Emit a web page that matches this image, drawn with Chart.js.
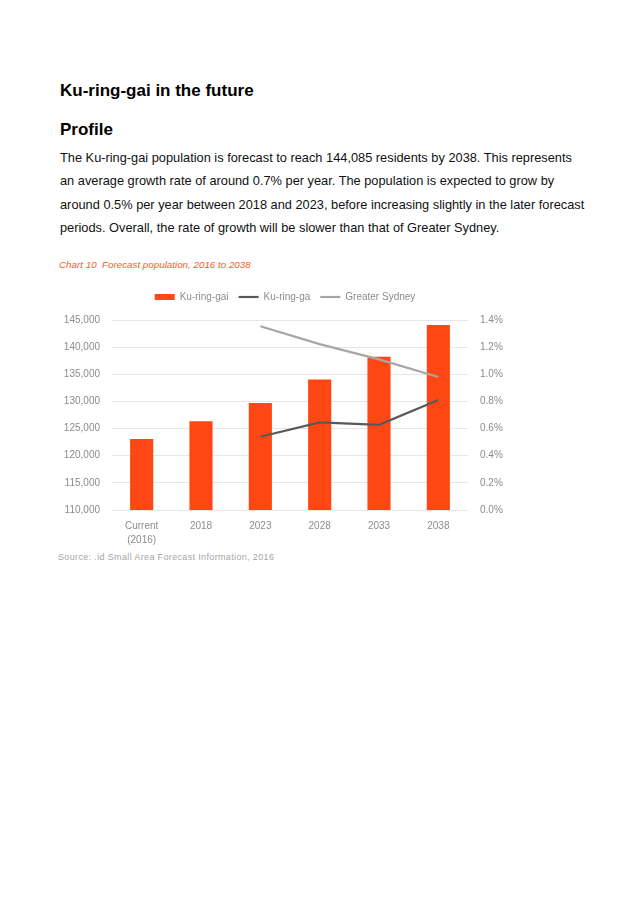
<!DOCTYPE html>
<html>
<head>
<meta charset="utf-8">
<script src="https://cdn.jsdelivr.net/npm/chart.js@4"></script>
<style>
  html, body { margin: 0; padding: 0; background: #fff; }
  body { width: 637px; height: 902px; position: relative; font-family: "Liberation Sans", Arial, sans-serif; color: #000; }
  .abs { position: absolute; white-space: nowrap; }
  #title { left: 60px; top: 81px; font-size: 17px; line-height: 20px; font-weight: bold; }
  #profile { left: 60px; top: 120px; font-size: 17px; line-height: 20px; font-weight: bold; }
  #para { left: 60px; top: 146px; font-size: 12.8px; line-height: 23.3px; color: #111; }
  #caption { left: 59px; top: 259px; font-size: 9.8px; line-height: 12px; font-style: italic; color: #ff5a28; }
  #source { left: 58px; top: 551px; font-size: 9px; line-height: 12px; color: #a6a6a6; letter-spacing: 0.35px; }
  #wrap { position: absolute; left: 50px; top: 280px; width: 470px; height: 270px; }
</style>
</head>
<body>
<div class="abs" id="title">Ku-ring-gai in the future</div>
<div class="abs" id="profile">Profile</div>
<div class="abs" id="para">The Ku-ring-gai population is forecast to reach 144,085 residents by 2038. This represents<br>an average growth rate of around 0.7% per year. The population is expected to grow by<br>around 0.5% per year between 2018 and 2023, before increasing slightly in the later forecast<br>periods. Overall, the rate of growth will be slower than that of Greater Sydney.</div>
<div class="abs" id="caption">Chart 10&nbsp; Forecast population, 2016 to 2038</div>
<div id="wrap"><canvas id="popChart" width="470" height="270"></canvas></div>
<div class="abs" id="source">Source: .id Small Area Forecast Information, 2016</div>

<script>
// ========== DADOS ==========
const categorias = [['Current', '(2016)'], '2018', '2023', '2028', '2033', '2038'];
const populacao = [123100, 126350, 129700, 134050, 138250, 144085];
const crescimentoKuRingGai = [null, null, 0.54, 0.645, 0.628, 0.81];
const crescimentoSydney = [null, null, 1.354, 1.222, 1.11, 0.98];
const legendas = ['Ku-ring-gai', 'Ku-ring-ga', 'Greater Sydney'];
const ticksPopulacao = [110000, 145000, 5000];
const ticksPercent = [0, 1.4, 0.2];

const corBarra = '#ff4713';
const corLinhaEscura = '#595959';
const corLinhaClara = '#a6a6a6';
const corTexto = '#8c8c8c';

let popChart = null;

// espaço extra entre a legenda e a área do gráfico
const espacoLegenda = {
    id: 'espacoLegenda',
    beforeInit(chart) {
        const fitOriginal = chart.legend.fit;
        chart.legend.fit = function() {
            fitOriginal.bind(chart.legend)();
            this.height += 8;
        };
    }
};

function criarGrafico() {
    const ctx = document.getElementById('popChart');
    if (!ctx) {
        console.error('Canvas não encontrado!');
        return;
    }

    popChart = new Chart(ctx.getContext('2d'), {
        data: {
            labels: categorias,
            datasets: [
                {
                    type: 'bar',
                    label: legendas[0],
                    data: populacao,
                    backgroundColor: corBarra,
                    borderWidth: 0,
                    categoryPercentage: 1,
                    barPercentage: 0.39,
                    yAxisID: 'y',
                    order: 1
                },
                {
                    type: 'line',
                    label: legendas[1],
                    data: crescimentoKuRingGai,
                    borderColor: corLinhaEscura,
                    backgroundColor: corLinhaEscura,
                    borderWidth: 2.2,
                    pointRadius: 0,
                    tension: 0,
                    yAxisID: 'y1',
                    order: 0
                },
                {
                    type: 'line',
                    label: legendas[2],
                    data: crescimentoSydney,
                    borderColor: corLinhaClara,
                    backgroundColor: corLinhaClara,
                    borderWidth: 2.2,
                    pointRadius: 0,
                    tension: 0,
                    yAxisID: 'y1',
                    order: 0
                }
            ]
        },
        plugins: [espacoLegenda],
        options: {
            responsive: false,
            animation: false,
            layout: { padding: { top: 2, left: 0, right: 0, bottom: 0 } },
            plugins: {
                tooltip: { enabled: false },
                legend: {
                    display: true,
                    position: 'top',
                    labels: {
                        usePointStyle: true,
                        pointStyleWidth: 20,
                        boxHeight: 6,
                        padding: 10,
                        color: corTexto,
                        font: { size: 10, family: 'Liberation Sans' },
                        sort: (a, b) => a.datasetIndex - b.datasetIndex,
                        generateLabels: function(chart) {
                            const itens = Chart.defaults.plugins.legend.labels.generateLabels(chart);
                            itens.forEach(function(item) {
                                const ds = chart.data.datasets[item.datasetIndex];
                                if (ds.type === 'line') {
                                    item.pointStyle = 'line';
                                    item.strokeStyle = ds.borderColor;
                                    item.lineWidth = 2.2;
                                } else {
                                    item.pointStyle = 'rect';
                                    item.fillStyle = ds.backgroundColor;
                                    item.lineWidth = 0;
                                }
                            });
                            return itens;
                        }
                    }
                }
            },
            scales: {
                x: {
                    grid: { display: false, drawTicks: false },
                    border: { display: false },
                    ticks: {
                        color: corTexto,
                        padding: 9,
                        maxRotation: 0,
                        font: { size: 10, family: 'Liberation Sans', lineHeight: 1.4 }
                    },
                    afterFit: function(scale) { scale.height = 40; }
                },
                y: {
                    position: 'left',
                    min: ticksPopulacao[0],
                    max: ticksPopulacao[1],
                    grid: { color: '#e6e6e6', lineWidth: 1, drawTicks: false },
                    border: { display: false },
                    ticks: {
                        stepSize: ticksPopulacao[2],
                        color: corTexto,
                        padding: 12,
                        font: { size: 10, family: 'Liberation Sans' },
                        callback: function(value) {
                            return value.toLocaleString('en-US');
                        }
                    },
                    afterFit: function(scale) { scale.width = 62; }
                },
                y1: {
                    position: 'right',
                    min: ticksPercent[0],
                    max: ticksPercent[1],
                    grid: { display: false, drawTicks: false },
                    border: { display: false },
                    ticks: {
                        stepSize: ticksPercent[2],
                        color: corTexto,
                        padding: 12,
                        font: { size: 10, family: 'Liberation Sans' },
                        callback: function(value) {
                            return value.toFixed(1) + '%';
                        }
                    },
                    afterFit: function(scale) { scale.width = 52; }
                }
            }
        }
    });
}

criarGrafico();
</script>
</body>
</html>
